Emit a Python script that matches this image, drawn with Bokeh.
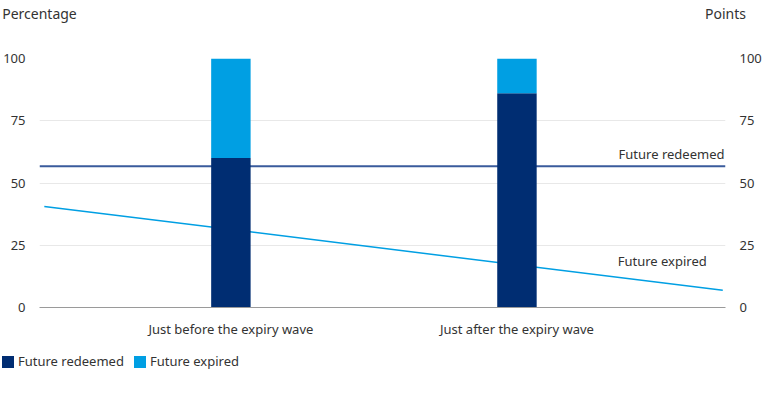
from bokeh.plotting import figure
from bokeh.layouts import column, row
from bokeh.models import (Range1d, LinearAxis, FixedTicker, Legend, LegendItem,
                          Label, ColumnDataSource)
from bokeh.embed import file_html
from bokeh.resources import INLINE

# ---- data ----
categories = ["Just before the expiry wave", "Just after the expiry wave"]
redeemed_pct = [60, 86]
expired_pct = [40, 14]

redeemed_line_x = [0, 100]
redeemed_line_y = [56.7, 56.7]
expired_line_x = [0.7, 99.6]
expired_line_y = [40.6, 6.9]

y_ticks = [0, 25, 50, 75, 100]
axis_titles = ["Percentage", "Points"]
series_names = ["Future redeemed", "Future expired"]

# ---- layout constants ----
cat_x = [27.9, 69.6]
title_x = [0, 100]
bar_w = 5.75
FONT = "Noto Sans"
TXT = "#333333"
NAVY = "#002d72"
LIGHT = "#009fe3"
NAVY_LINE = "#3a5b9c"
W = 764

# ---------- main chart ----------
p = figure(width=W, height=341, x_range=Range1d(0, 100), y_range=Range1d(0, 100),
           output_backend="svg", toolbar_location=None,
           min_border_top=0, min_border_left=0, min_border_right=12, min_border_bottom=34)
p.outline_line_color = None
p.extra_y_ranges = {"points": Range1d(0, 100)}

src = ColumnDataSource(dict(x=cat_x, redeemed=redeemed_pct, expired=expired_pct))

p.line(redeemed_line_x, redeemed_line_y, line_color=NAVY_LINE, line_width=2,
       y_range_name="points")
p.line(expired_line_x, expired_line_y, line_color=LIGHT, line_width=1.5,
       y_range_name="points")

bars = p.vbar_stack(["redeemed", "expired"], x="x", width=bar_w, source=src,
                    color=[NAVY, LIGHT], line_color=None)

# bottom category axis
bottom = p.below[0]
bottom.ticker = FixedTicker(ticks=cat_x)
bottom.major_label_overrides = {cat_x[i]: categories[i] for i in range(len(categories))}
bottom.axis_line_color = "#9a9a9a"
bottom.major_tick_line_color = None
bottom.minor_tick_line_color = None
bottom.major_label_text_font = FONT
bottom.major_label_text_font_size = "13px"
bottom.major_label_text_color = TXT
bottom.major_label_standoff = 6

# value axes
p.yaxis.ticker = FixedTicker(ticks=y_ticks)
right = LinearAxis(y_range_name="points", ticker=FixedTicker(ticks=y_ticks))
p.add_layout(right, "right")
for ax in (p.left[0], right):
    ax.axis_line_color = None
    ax.major_tick_line_color = None
    ax.minor_tick_line_color = None
    ax.major_label_text_font = FONT
    ax.major_label_text_font_size = "13px"
    ax.major_label_text_color = TXT
    ax.major_label_standoff = 8

# axis titles carried by an axis above the frame
top = LinearAxis(ticker=FixedTicker(ticks=title_x))
top.major_label_overrides = {title_x[i]: axis_titles[i] for i in range(2)}
top.axis_line_color = None
top.major_tick_line_color = None
top.minor_tick_line_color = None
top.major_label_text_font = FONT
top.major_label_text_font_size = "14px"
top.major_label_text_color = TXT
top.major_label_standoff = 30
p.add_layout(top, "above")

p.xgrid.grid_line_color = None
p.ygrid.ticker = FixedTicker(ticks=y_ticks)
p.ygrid.grid_line_color = "#e8e8e8"

p.add_layout(Label(x=redeemed_line_x[-1], y=redeemed_line_y[-1], x_offset=-1, y_offset=3,
                   text=series_names[0], text_align="right", text_baseline="bottom",
                   text_font=FONT, text_font_size="13px", text_color=TXT,
                   y_range_name="points"))
p.add_layout(Label(x=expired_line_x[-1], y=expired_line_y[-1], x_offset=-16, y_offset=20,
                   text=series_names[1], text_align="right", text_baseline="bottom",
                   text_font=FONT, text_font_size="13px", text_color=TXT,
                   y_range_name="points"))

# ---------- legend strip ----------
lg = figure(width=W, height=30, output_backend="svg", toolbar_location=None,
            x_range=Range1d(0, 1), y_range=Range1d(0, 1),
            min_border=0, x_axis_type=None, y_axis_type=None)
lg.outline_line_color = None
lg.grid.visible = False
r1 = lg.vbar(x=[0.5], top=[0], bottom=[0], width=0, color=NAVY, line_color=None)
r2 = lg.vbar(x=[0.5], top=[0], bottom=[0], width=0, color=LIGHT, line_color=None)
legend = Legend(items=[LegendItem(label=series_names[0], renderers=[r1]),
                       LegendItem(label=series_names[1], renderers=[r2])],
                orientation="horizontal", location=(0, 1),
                glyph_width=15, glyph_height=15, label_standoff=3, spacing=8,
                padding=0, margin=0, border_line_alpha=0, background_fill_alpha=0,
                label_text_font=FONT, label_text_font_size="13px",
                label_text_color=TXT, label_height=15)
lg.add_layout(legend)

layout = column(p, row(lg), spacing=0)
open("out.html", "w").write(file_html(layout, INLINE))
